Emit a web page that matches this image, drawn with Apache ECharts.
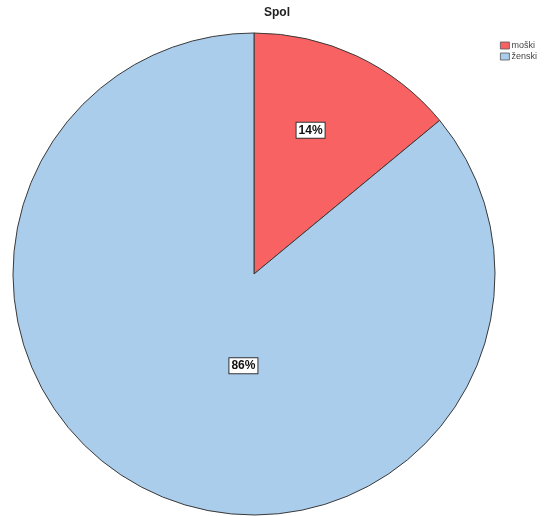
<!DOCTYPE html>
<html>
<head>
<meta charset="utf-8">
<script src="https://cdn.jsdelivr.net/npm/echarts@6/dist/echarts.min.js"></script>
<style>
  html, body { margin: 0; padding: 0; background: #fff; }
  #chart { width: 546px; height: 516px; }
</style>
</head>
<body>
<div id="chart"></div>
<script>
// Gender breakdown (Spol)
const categories = ['moški', 'ženski'];
const shares = [14, 86];
const sliceColors = ['#F96262', '#ABCDEC'];
// small nudges so the percentage boxes sit where they read best
const labelNudge = [[4, -32], [42, -20]];

const chart = echarts.init(document.getElementById('chart'), null, { renderer: 'canvas' });

chart.setOption({
  backgroundColor: '#ffffff',
  animation: false,
  title: {
    text: 'Spol',
    left: 272,
    top: 2,
    textAlign: 'center',
    textStyle: { fontFamily: 'Liberation Sans, Arial, sans-serif', fontSize: 12, fontWeight: 'bold', color: '#222' }
  },
  legend: {
    orient: 'vertical',
    left: 495,
    top: 36,
    itemWidth: 9,
    itemHeight: 7,
    itemGap: 2,
    icon: 'rect',
    textStyle: { fontFamily: 'Liberation Sans, Arial, sans-serif', fontSize: 9, color: '#444', padding: [0, 0, 0, -3] },
    itemStyle: { borderColor: '#555', borderWidth: 0.8 },
    data: categories
  },
  series: [{
    type: 'pie',
    center: [254, 274],
    radius: 241,
    startAngle: 90,
    clockwise: true,
    silent: true,
    itemStyle: { borderColor: '#3a3a3a', borderWidth: 1 },
    label: {
      show: true,
      position: 'inside',
      formatter: p => p.value + '%',
      fontFamily: 'Liberation Sans, Arial, sans-serif',
      fontSize: 12,
      fontWeight: 'bold',
      color: '#111',
      backgroundColor: '#ffffff',
      borderColor: '#333',
      borderWidth: 1,
      padding: [2, 2, 1, 2]
    },
    labelLine: { show: false },
    labelLayout: p => ({ dx: labelNudge[p.dataIndex][0], dy: labelNudge[p.dataIndex][1] }),
    data: categories.map((name, i) => ({
      name,
      value: shares[i],
      itemStyle: { color: sliceColors[i] }
    }))
  }]
});
</script>
</body>
</html>
